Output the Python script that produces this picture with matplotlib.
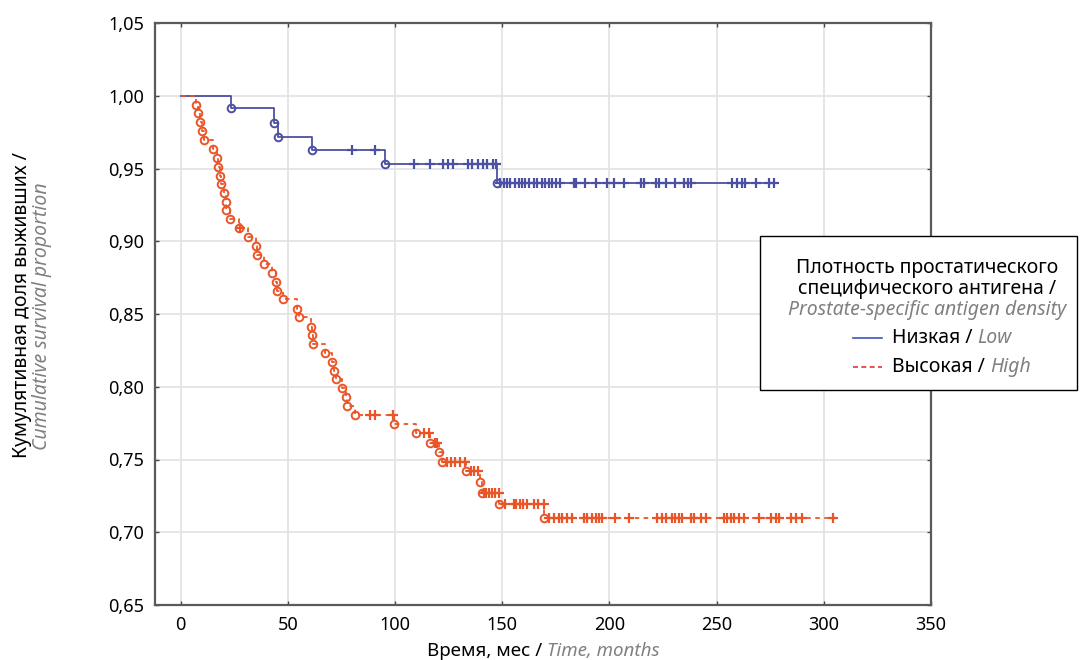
import numpy as np
import matplotlib
matplotlib.use("Agg")
import matplotlib.pyplot as plt
from matplotlib.lines import Line2D
from matplotlib.patches import Rectangle
from matplotlib.ticker import FuncFormatter

plt.rcParams['font.family'] = ['Noto Sans', 'DejaVu Sans']

# --- Низкая / Low ---
low_event_t = [23.4, 43.5, 45.4, 61.2, 95.4, 147.5]
low_event_s = [0.9916, 0.9815, 0.9719, 0.9627, 0.9531, 0.9398]
low_end = 278.5
low_cens = [80.0, 90.7, 109.0, 116.4, 122.4, 124.6, 127.0, 134.0, 135.8, 138.8, 141.0,
            142.8, 145.9, 147.3,
            149.1, 150.6, 152.2, 153.7, 156.1, 157.6, 159.2, 160.7, 162.3, 164.6, 166.2,
            168.5, 170.1, 171.6, 173.2, 175.2, 177.1, 183.3, 184.6, 188.8, 193.9, 198.9,
            202.0, 207.0, 214.5, 216.0, 221.5, 223.0, 226.2, 230.8, 234.7, 236.6, 238.2,
            257.3, 259.6, 262.0, 263.1, 268.2, 274.5, 276.8]

# --- Высокая / High ---
high_event_t = [7.3, 8.1, 9.2, 10.0, 10.9, 15.1, 17.0, 17.4, 18.5, 19.0,
                20.2, 21.0, 21.3, 22.9, 27.3, 31.6, 35.0, 35.7, 38.8, 42.5,
                44.4, 44.7, 47.8, 54.4, 55.1, 60.9, 61.2, 61.8, 67.3, 70.7,
                71.6, 72.4, 75.1, 76.9, 77.4, 81.3,
                99.5, 109.8, 116.4, 120.3, 121.8, 133.2, 139.4, 140.5, 148.7, 169.6]
high_event_s = [0.9936, 0.9879, 0.9822, 0.9760, 0.9696, 0.9634, 0.9574, 0.9512, 0.9451, 0.9391,
                0.9329, 0.9272, 0.9215, 0.9151, 0.9091, 0.9029, 0.8967, 0.8906, 0.8844, 0.8784,
                0.8722, 0.8660, 0.8601, 0.8537, 0.8477, 0.8413, 0.8353, 0.8292, 0.8234, 0.8172,
                0.8110, 0.8051, 0.7989, 0.7927, 0.7868, 0.7806,
                0.7744, 0.7680, 0.7615, 0.7554, 0.7485, 0.7423, 0.7343, 0.7272, 0.7192, 0.7096]
high_end = 305.0
high_cens = [27.5, 88.3, 90.7, 98.9, 113.7, 115.6, 118.7, 119.6, 124.1, 126.0, 128.0, 130.4,
             132.7, 135.4, 136.9, 138.9, 141.3, 142.5, 143.6, 145.2, 146.7, 148.5,
             151.4, 155.3, 156.5, 158.1, 159.7, 161.5, 165.0, 166.5, 169.3,
             171.6, 174.0, 176.3, 177.9, 180.2, 182.6, 188.0, 189.6, 191.9, 193.5, 195.0,
             196.6, 202.8, 209.0, 222.3, 224.6, 226.2, 229.3, 230.8, 232.4, 234.0, 237.9,
             239.4, 242.5, 244.9, 253.4, 255.0, 256.5, 258.1, 260.4, 262.8, 269.8, 275.2,
             277.6, 279.1, 284.6, 286.9, 290.0, 304.1]

x_ticks = [0, 50, 100, 150, 200, 250, 300, 350]
y_ticks = [0.65, 0.70, 0.75, 0.80, 0.85, 0.90, 0.95, 1.00, 1.05]

blue = '#4b50a2'
red = '#ea5528'

W, H = 1089, 660
fig = plt.figure(figsize=(W / 100, H / 100), dpi=100)
ax = fig.add_axes([155 / W, 55 / H, 776 / W, 582 / H])


def km_curve(ax, ev_t, ev_s, end, cens, color, ls):
    xs = [0] + list(ev_t) + [end]
    ys = [1.0] + list(ev_s) + [ev_s[-1]]
    ax.plot(xs, ys, drawstyle='steps-post', color=color, lw=1.3, ls=ls, zorder=3)
    ax.plot(ev_t, ev_s, ls='none', marker='o', ms=5.5, mfc='none', mec=color, mew=1.4, zorder=4)
    idx = np.searchsorted(ev_t, cens, side='right')
    lev = np.array([1.0] + list(ev_s))[idx]
    ax.plot(cens, lev, ls='none', marker='+', ms=7.5, mew=1.6, color=color, zorder=4)


km_curve(ax, low_event_t, low_event_s, low_end, low_cens, blue, '-')
km_curve(ax, high_event_t, high_event_s, high_end, high_cens, red, (0, (2.5, 2.5)))

ax.set_xlim(-12, 350)
ax.set_ylim(0.65, 1.05)
ax.set_xticks(x_ticks)
ax.set_yticks(y_ticks)
ax.yaxis.set_major_formatter(FuncFormatter(lambda v, p: f'{v:.2f}'.replace('.', ',')))
ax.grid(True, color='#e2e2e2', lw=1.2, zorder=0)
ax.set_axisbelow(True)
ax.tick_params(direction='in', length=3, width=1, color='#444444', top=True, right=True,
               labelsize=13, pad=8)
for s in ax.spines.values():
    s.set_color('#5a5a5a')
    s.set_linewidth(1.6)

renderer = fig.canvas.get_renderer()


def rich_line(xc, y, parts, size=14, ha='center'):
    # parts: (text, italic?) ; italic parts gray
    arts = []
    for txt, it in parts:
        t = fig.text(0, y / H, txt, fontsize=size, va='center', ha='left',
                     style='italic' if it else 'normal',
                     color='#808080' if it else 'black')
        arts.append(t)
    widths = [a.get_window_extent(renderer).width for a in arts]
    x = xc - sum(widths) / 2 if ha == 'center' else xc
    for a, w in zip(arts, widths):
        a.set_x(x / W)
        x += w


# axis labels
rich_line(543, H - 651, [('Время, мес / ', False), ('Time, months', True)], size=13.5)
fig.text(22 / W, 1 - 305 / H, 'Кумулятивная доля выживших /', rotation=90,
         fontsize=14, ha='center', va='center')
fig.text(42 / W, 1 - 316 / H, 'Cumulative survival proportion', rotation=90,
         fontsize=14, ha='center', va='center', style='italic', color='#808080')

# legend
fig.patches.append(Rectangle((760 / W, 1 - 390 / H), 317 / W, 154 / H, transform=fig.transFigure,
                             facecolor='white', edgecolor='black', lw=1, zorder=5))
rich_line(927, H - 268, [('Плотность простатического', False)])
rich_line(927, H - 289, [('специфического антигена /', False)])
rich_line(927, H - 310, [('Prostate-specific antigen density', True)])
fig.lines.append(Line2D([853 / W, 882 / W], [1 - 338 / H] * 2, transform=fig.transFigure,
                        color='#3b58b6', lw=1.2, zorder=6))
fig.lines.append(Line2D([853 / W, 882 / W], [1 - 367 / H] * 2, transform=fig.transFigure,
                        color='#e8333a', lw=1.2, ls=(0, (3, 2)), zorder=6))
rich_line(892, H - 338, [('Низкая / ', False), ('Low', True)], ha='left')
rich_line(892, H - 367, [('Высокая / ', False), ('High', True)], ha='left')
for t in fig.texts:
    t.set_zorder(7)

fig.savefig('out.png', dpi=100)
